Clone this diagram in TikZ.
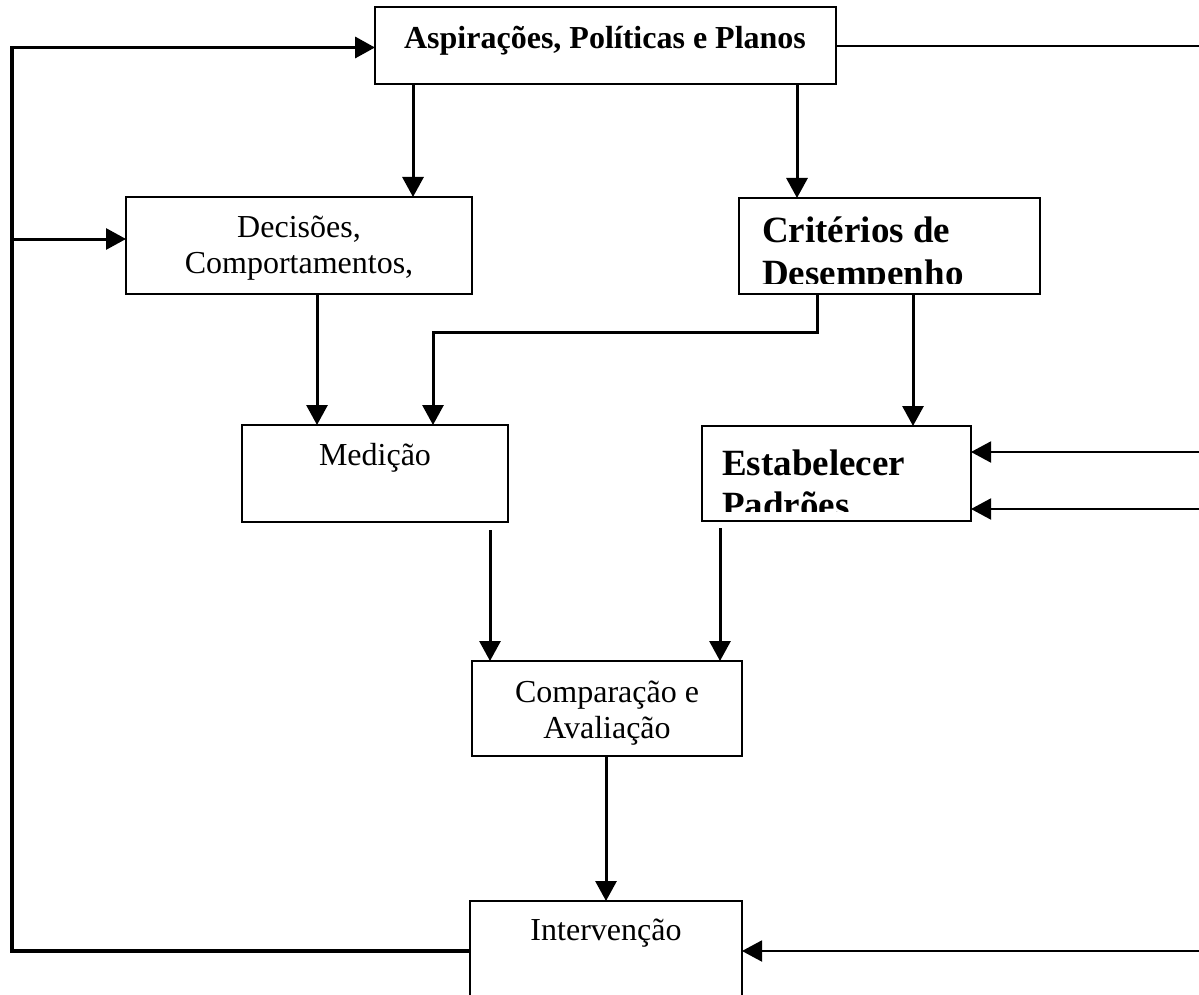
\documentclass[tikz,border=0pt]{standalone}
\usepackage{fontspec}
\setmainfont{Liberation Serif}
\usetikzlibrary{arrows.meta}
\begin{document}
\begin{tikzpicture}[x=1pt,y=-1pt,
  box/.style={draw, line width=1.6pt, inner sep=0pt, outer sep=0pt, anchor=north west},
  reg/.style={font=\fontsize{32}{37}\selectfont, inner sep=0pt, anchor=base},
  bld/.style={font=\fontsize{32}{37}\bfseries\selectfont, inner sep=0pt, anchor=base},
  big/.style={font=\fontsize{37}{42}\bfseries\selectfont, inner sep=0pt, anchor=base west},
  tip/.style={-{Triangle[length=20pt,width=21pt]}},
  arr/.style={line width=3pt, tip},
  loopline/.style={line width=3.5pt, line join=miter},
  feed/.style={line width=2pt, tip},
  plain/.style={line width=2pt}]
\useasboundingbox (0,0) rectangle (1199,995);
\clip (0,0) rectangle (1199,995);

% boxes
\node[box, minimum width=461pt, minimum height=77pt] (asp) at (375,7) {};
\node[box, minimum width=346pt, minimum height=97pt] (dec) at (126,197) {};
\node[box, minimum width=301pt, minimum height=96pt] (cri) at (739,198) {};
\node[box, minimum width=266pt, minimum height=97pt] (med) at (242,425) {};
\node[box, minimum width=269pt, minimum height=95pt] (est) at (702,426) {};
\node[box, minimum width=270pt, minimum height=95pt] (cmp) at (472,661) {};
\node[box, minimum width=272pt, minimum height=130pt] (int) at (470,901) {};

% labels
\node[bld] (aspT) at (605,49) {Aspirações, Políticas e Planos};
\node[reg] (decT1) at (299,237) {Decisões,};
\node[reg] (decT2) at (299,273) {Comportamentos,};
\begin{scope}
  \clip (739,198) rectangle (1040,283);
  \node[big] (criT1) at (762,243) {Critérios de};
  \node[big] (criT2) at (762,285) {Desempenho};
\end{scope}
\node[reg] (medT) at (375,465) {Medição};
\begin{scope}
  \clip (702,426) rectangle (971,511);
  \node[big] (estT1) at (722,475) {Estabelecer};
  \node[big] (estT2) at (722,517) {Padrões};
\end{scope}
\node[reg] (cmpT1) at (607,702) {Comparação e};
\node[reg] (cmpT2) at (607,738) {Avaliação};
\node[reg] (intT) at (606,940) {Intervenção};

% column and row guides
\coordinate (cA) at (413,0);
\coordinate (cB) at (797,0);
\coordinate (cC) at (317,0);
\coordinate (cD) at (817,0);
\coordinate (cE) at (433,0);
\coordinate (cF) at (913,0);
\coordinate (cG) at (490,0);
\coordinate (cH) at (720,0);
\coordinate (cI) at (606,0);
\coordinate (rL) at (12,0);
\coordinate (rR) at (1199,0);
\coordinate (y46) at (0,46);
\coordinate (y47) at (0,47.5);
\coordinate (y238) at (0,239);
\coordinate (y332) at (0,332);
\coordinate (y452) at (0,452);
\coordinate (y509) at (0,509);
\coordinate (y528) at (0,528);
\coordinate (y530) at (0,530);
\coordinate (y951) at (0,951);

% connectors
\draw[arr] (asp.south -| cA) -- (dec.north -| cA);
\draw[arr] (asp.south -| cB) -- (cri.north -| cB);
\draw[arr] (dec.south -| cC) -- (med.north -| cC);
\draw[arr, line join=miter] (cri.south -| cD) |- (y332 -| cE) -- (med.north -| cE);
\draw[arr] (cri.south -| cF) -- (est.north -| cF);
\draw[arr] (y530 -| cG) -- (cmp.north -| cG);
\draw[arr] (y528 -| cH) -- (cmp.north -| cH);
\draw[arr] (cmp.south -| cI) -- (int.north -| cI);

% feedback loop on the left
\draw[loopline, tip] (int.west |- y951) -- (rL |- y951) -- (rL |- y47) -- (asp.west |- y47);
\draw[arr] (rL |- y238) -- (dec.west |- y238);

% lines on the right
\draw[plain] (asp.east |- y46) -- (rR |- y46);
\draw[feed] (rR |- y452) -- (est.east |- y452);
\draw[feed] (rR |- y509) -- (est.east |- y509);
\draw[feed] (rR |- y951) -- (int.east |- y951);
\end{tikzpicture}
\end{document}
